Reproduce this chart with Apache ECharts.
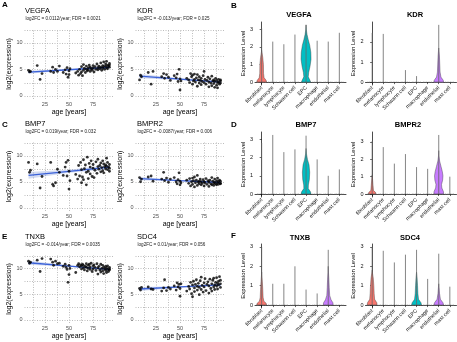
<!DOCTYPE html>
<html><head><meta charset="utf-8">
<script src="https://cdn.jsdelivr.net/npm/echarts/dist/echarts.min.js"></script>
<style>html,body{margin:0;padding:0;background:#fff}#c{width:457px;height:342px}</style>
</head><body><div id="c"></div>
<script>
// ---------- scatter data (shared donor ages) ----------
const ages = [8,9,10,17,20,22,31,33,34,36,38,40,44,46,47,48,49,50,50,51,57,59,60,61,62,63,63,64,65,65,66,67,68,68,69,70,70,71,72,72,73,74,75,75,76,77,78,79,80,80,81,82,83,83,84,85,85,86,86,87,88,88,89,89,90,90,91,92,92,92];
const vegfaExpr = [4.8,4.5,4.6,5.7,3.1,4.2, 4.6,5.4,4.4,5.0,4.6,5.6, 4.4,4.9,4.1,5.3,3.5,4.7,4.0,5.1, 4.3,4.6,3.9,5.0,4.2,5.5,4.5,3.8,5.9,4.8, 5.2,4.4,5.0,5.6,4.7,5.3,4.9,5.8,4.6,5.4, 5.1,4.8,5.7,5.2,4.5,5.5,5.0,6.0,5.3,4.9, 5.6,5.1,6.2,5.4,4.8,5.7,5.2,6.4,5.5,5.0, 6.0,5.6,5.3,6.5,5.8,5.1,5.6,6.1,5.4,5.8];
const kdrExpr = [3.0,3.9,3.6,4.4,2.2,4.6, 3.6,4.2,3.3,4.0,3.5,2.9, 3.8,3.4,4.1,2.7,5.0,1.1,3.2,2.8, 3.3,3.0,2.5,4.2,3.6,2.2,3.9,2.8,4.1,3.1, 2.6,3.4,1.8,4.0,3.0,2.4,3.6,2.9,2.1,3.3, 2.7,3.8,2.5,4.6,3.1,2.2,2.9,3.5,1.7,2.6, 3.2,2.4,1.9,3.7,2.8,2.3,3.0,1.6,2.7,3.3, 2.0,2.9,2.5,1.5,3.1,2.6,2.2,3.0,2.4,2.8];
const bmp7Expr = [8.7,6.8,7.2,8.4,3.8,6.0, 8.7,4.5,4.2,4.8,7.4,6.8, 6.2,7.8,8.7,6.1,9.1,3.6,7.0,5.2, 6.4,5.5,8.1,6.1,8.7,4.8,7.3,5.9,9.2,5.4, 7.5,8.2,4.4,6.8,9.7,7.0,5.6,8.5,6.5,7.8, 9.0,6.0,7.6,8.3,5.8,7.2,8.8,6.6,7.9,9.3, 7.4,8.1,6.9,8.6,7.7,9.0,7.1,8.4,6.7,7.9, 8.2,7.5,9.5,8.0,7.3,8.7,7.8,8.3,7.0,7.6];
const bmpr2Expr = [5.8,5.0,5.5,5.9,6.1,5.1, 5.5,6.8,5.2,5.7,4.9,5.5, 5.8,5.0,4.6,5.4,6.7,4.4,5.1,4.8, 5.3,4.7,5.6,4.2,5.0,5.7,4.5,5.2,4.0,5.9, 4.8,5.3,4.3,6.2,4.9,5.1,4.6,5.5,4.4,5.0, 4.7,5.4,4.2,5.0,4.8,5.6,4.5,5.2,4.1,4.9, 5.3,4.6,5.8,4.4,5.1,4.7,4.3,5.5,4.9,4.6, 5.2,4.4,5.7,4.8,5.0,4.5,5.3,4.7,5.1,4.6];
const tnxbExpr = [11.4,11.0,11.2,11.6,9.4,11.9, 11.8,11.2,10.6,11.4,10.9,11.0, 10.4,10.8,10.2,9.8,7.3,8.8,10.6,10.0, 9.2,10.6,10.9,10.3,10.7,9.9,10.5,10.8,10.1,10.6, 9.7,10.4,10.9,10.2,9.5,10.6,10.0,10.8,9.8,10.3, 11.0,9.4,10.5,9.9,10.7,10.2,9.6,10.9,8.9,10.1, 10.4,9.7,10.8,9.3,10.0,10.6,9.5,10.2,9.0,9.9, 10.4,9.6,10.1,9.2,9.8,10.5,9.4,9.9,9.7,10.2];
const sdc4Expr = [6.1,5.8,6.3,6.4,6.0,5.9, 5.6,6.2,7.8,5.7,6.3,6.0, 6.6,5.8,7.2,6.4,6.9,4.6,6.1,7.0, 5.6,6.5,6.0,7.3,5.1,6.8,4.5,7.5,6.2,5.5, 6.9,7.8,5.8,6.5,7.1,4.9,6.3,7.6,5.9,8.3, 6.7,5.4,7.2,6.4,8.0,5.7,6.9,7.4,5.2,6.6, 7.9,6.1,7.0,5.6,7.7,6.4,8.1,6.8,5.9,7.3, 6.6,8.2,7.1,6.0,7.5,6.8,8.4,7.0,6.3,7.7];

// fitted trend (linear) and its confidence half-width
const fitAges = [8, 50, 92];
const vegfaFit = [4.45, 4.92, 5.39];  const vegfaBand = [0.30, 0.12, 0.22];
const kdrFit = [3.70, 3.15, 2.60];    const kdrBand = [0.40, 0.15, 0.25];
const bmp7Fit = [6.20, 7.00, 7.80];   const bmp7Band = [0.65, 0.28, 0.40];
const bmpr2Fit = [5.60, 5.22, 4.85];  const bmpr2Band = [0.30, 0.12, 0.18];
const tnxbFit = [11.10, 10.45, 9.80]; const tnxbBand = [0.40, 0.15, 0.22];
const sdc4Fit = [6.00, 6.40, 6.80];   const sdc4Band = [0.40, 0.15, 0.25];

const scatterGenes = ['VEGFA','KDR','BMP7','BMPR2','TNXB','SDC4'];
const scatterStats = ['log2FC = 0.0112/year; FDR = 0.0021','log2FC = -0.013/year; FDR = 0.025','log2FC = 0.019/year; FDR = 0.032','log2FC = -0.0087/year; FDR = 0.006','log2FC = -0.014/year; FDR = 0.0035','log2FC = 0.01/year; FDR = 0.056'];
const ageTicks = [25, 50, 75];
const ageGrid = [12.5, 25, 37.5, 50, 62.5, 75, 87.5];
const exprTicks = [0, 5, 10];
const exprGrid = [0, 2.5, 5, 7.5, 10, 12.5];

// ---------- violin data ----------
const cellTypes = ['fibroblast','melanocyte','lymphocyte','Schwann cell','EPC','macrophage','endothelial','mast cell'];
const violinGenes = ['VEGFA','KDR','BMP7','BMPR2','TNXB','SDC4'];
const vegfaMax = [3.05, 2.3, 2.15, 2.7, 3.25, 2.35, 2.3, 2.8];
const kdrMax   = [2.45, 2.4, 0, 0.6, 0.3, 0, 2.85, 0];
const bmp7Max  = [2.8, 3.24, 2.3, 2.45, 3.2, 1.9, 1.0, 1.35];
const bmpr2Max = [3.05, 2.7, 1.75, 2.3, 1.55, 1.45, 3.4, 1.0];
const tnxbMax  = [3.0, 1.1, 1.1, 2.0, 0.8, 0.6, 2.85, 0];
const sdc4Max  = [3.0, 2.8, 2.2, 2.6, 2.85, 1.35, 2.65, 0.95];
const levelTicks = [0, 1, 2, 3];
// violin profiles: [expression level, half width (in category units)]
const vegfaFibroblastViolin = [[0,0.45],[0.1,0.4],[0.25,0.22],[0.5,0.17],[1.0,0.16],[1.4,0.1],[1.8,0]];
const vegfaEpcViolin = [[0,0.42],[0.12,0.34],[0.3,0.2],[0.55,0.24],[0.9,0.36],[1.3,0.45],[1.7,0.43],[2.1,0.33],[2.4,0.2],[2.7,0.09],[3.0,0.02],[3.25,0]];
const kdrEndothelialViolin = [[0,0.45],[0.1,0.4],[0.25,0.2],[0.5,0.12],[0.9,0.09],[1.3,0.06],[1.7,0]];
const bmp7EpcViolin = [[0,0.45],[0.12,0.4],[0.3,0.2],[0.5,0.21],[0.8,0.3],[1.2,0.33],[1.6,0.27],[1.9,0.13],[2.2,0.04],[2.5,0]];
const bmpr2FibroblastViolin = [[0,0.35],[0.1,0.3],[0.2,0.12],[0.5,0.08],[0.9,0.03],[1.1,0]];
const bmpr2EndothelialViolin = [[0,0.45],[0.15,0.42],[0.35,0.28],[0.55,0.25],[0.8,0.35],[1.05,0.38],[1.3,0.32],[1.6,0.2],[1.9,0.08],[2.2,0.02],[2.5,0]];
const tnxbFibroblastViolin = [[0,0.45],[0.1,0.4],[0.2,0.2],[0.4,0.13],[0.8,0.1],[1.2,0.06],[1.5,0.02],[1.7,0]];
const tnxbEndothelialViolin = [[0,0.45],[0.12,0.42],[0.28,0.25],[0.5,0.13],[0.9,0.09],[1.3,0.06],[1.7,0.02],[2.0,0]];
const sdc4FibroblastViolin = [[0,0.45],[0.12,0.42],[0.3,0.22],[0.6,0.18],[1.0,0.15],[1.4,0.1],[1.65,0.03],[1.8,0]];
const sdc4EpcViolin = [[0,0.45],[0.12,0.4],[0.3,0.18],[0.6,0.12],[1.0,0.09],[1.4,0.05],[1.7,0]];
const sdc4EndothelialViolin = [[0,0.45],[0.12,0.38],[0.3,0.15],[0.6,0.07],[0.9,0.03],[1.1,0]];

// ---------- assembly ----------
const FONT = "'Liberation Sans', Arial, sans-serif";
const cellColors = ['#F8766D','#CD9600','#7CAE00','#00BE67','#00BFC4','#00A9FF','#C77CFF','#FF61CC'];
const scatterExpr = [vegfaExpr, kdrExpr, bmp7Expr, bmpr2Expr, tnxbExpr, sdc4Expr];
const scatterFit = [vegfaFit, kdrFit, bmp7Fit, bmpr2Fit, tnxbFit, sdc4Fit];
const scatterBand = [vegfaBand, kdrBand, bmp7Band, bmpr2Band, tnxbBand, sdc4Band];
const violinMax = [vegfaMax, kdrMax, bmp7Max, bmpr2Max, tnxbMax, sdc4Max];
const violinShapes = [
  [[0, vegfaFibroblastViolin], [4, vegfaEpcViolin]],
  [[6, kdrEndothelialViolin]],
  [[4, bmp7EpcViolin]],
  [[0, bmpr2FibroblastViolin], [6, bmpr2EndothelialViolin]],
  [[0, tnxbFibroblastViolin], [6, tnxbEndothelialViolin]],
  [[0, sdc4FibroblastViolin], [4, sdc4EpcViolin], [6, sdc4EndothelialViolin]]
];

const sColLeft = [24.5, 135.5], sRowTop = [29, 142, 255], sRowH = [70, 69, 68], sW = 89;
const sTitleX = [25, 137];
const vColLeft = [255, 365.5], vRowTop = [22, 132, 244], vRowH = [63, 65, 64], vW = 91;
const vTitleX = [299, 415, 306, 408, 300, 410];
const vTitleY = [15, 125, 238];

const grid = [], xAxis = [], yAxis = [], series = [], graphic = [];

function txt(x, y, text, size, weight, align, color, rotation) {
  graphic.push({type:'text', x:x, y:y, rotation: rotation || 0, silent:true, z:10,
    style:{text:text, fontSize:size, fontWeight:weight||'normal', fontFamily:FONT, fill:color||'#000',
      align:align||'left', verticalAlign:'middle', textAlign:align||'left', textVerticalAlign:'middle'}});
}

// scatter panels
for (let g = 0; g < 6; g++) {
  const col = g % 2, row = Math.floor(g / 2);
  const gi = grid.length;
  grid.push({left: sColLeft[col], top: sRowTop[row], width: sW, height: sRowH[row]});
  xAxis.push({gridIndex: gi, type:'value', min:3.8, max:96.2,
    axisLine:{show:false}, axisTick:{show:false}, splitLine:{show:false},
    axisLabel:{customValues: ageTicks, fontSize:5.5, color:'#4d4d4d', margin:2, fontFamily:FONT},
    name:'age [years]', nameLocation:'middle', nameGap:9.5, nameTextStyle:{fontSize:7, color:'#000', fontFamily:FONT}});
  yAxis.push({gridIndex: gi, type:'value', min:-0.6, max:12.6,
    axisLine:{show:false}, axisTick:{show:false}, splitLine:{show:false},
    axisLabel:{customValues: exprTicks, fontSize:5.5, color:'#4d4d4d', margin:2, fontFamily:FONT},
    name:'log2(expression)', nameLocation:'middle', nameGap:9, nameRotate:90, nameTextStyle:{fontSize:7, color:'#000', fontFamily:FONT}});
  const fit = scatterFit[g], band = scatterBand[g], expr = scatterExpr[g];
  const ribbonData = fitAges.map((a, i) => [a, fit[i] - band[i], fit[i] + band[i]]);
  // grid lines drawn through the axis scales
  series.push({type:'custom', xAxisIndex: gi, yAxisIndex: gi, z:1, silent:true,
    data: [[ageGrid[0], exprGrid[0]]], encode:{x:0, y:1},
    renderItem: function (params, api) {
      const ch = [];
      ageGrid.forEach(v => {
        const a = api.coord([v, -0.6]), b = api.coord([v, 12.6]);
        ch.push({type:'line', shape:{x1:Math.round(a[0])+0.5, y1:a[1], x2:Math.round(b[0])+0.5, y2:b[1]},
          style:{stroke:'#bdbdbd', lineWidth:1, lineDash:[1,1.5]}});
      });
      exprGrid.forEach(v => {
        const a = api.coord([3.8, v]), b = api.coord([96.2, v]);
        ch.push({type:'line', shape:{x1:a[0], y1:Math.round(a[1])+0.5, x2:b[0], y2:Math.round(b[1])+0.5},
          style:{stroke:'#bdbdbd', lineWidth:1, lineDash:[1,1.5]}});
      });
      return {type:'group', children: ch};
    }});
  series.push({type:'custom', xAxisIndex: gi, yAxisIndex: gi, z:2, silent:true,
    data: ribbonData, encode:{x:0, y:[1,2]},
    renderItem: function (params, api) {
      if (params.dataIndex !== 0) return null;
      const up = ribbonData.map(d => api.coord([d[0], d[2]]));
      const lo = ribbonData.slice().reverse().map(d => api.coord([d[0], d[1]]));
      return {type:'polygon', shape:{points: up.concat(lo)}, style:{fill:'rgba(125,150,215,0.35)'}};
    }});
  series.push({type:'line', xAxisIndex: gi, yAxisIndex: gi, z:3, silent:true, symbol:'none',
    data: fitAges.map((a, i) => [a, fit[i]]), lineStyle:{color:'#3b62d9', width:1.3}});
  series.push({type:'scatter', xAxisIndex: gi, yAxisIndex: gi, z:4, silent:true,
    data: ages.map((a, i) => [a, expr[i]]), symbolSize:2.8, itemStyle:{color:'#000'}});
  const top = sRowTop[row];
  txt(sTitleX[col], top - 18.5, scatterGenes[g], 7.5, 'normal', 'left');
  txt(sTitleX[col] + 0.5, top - 10.5, scatterStats[g], 4.6, 'normal', 'left', '#222');
}

// violin panels
for (let g = 0; g < 6; g++) {
  const col = g % 2, row = Math.floor(g / 2);
  const gi = grid.length;
  const mx = Math.max.apply(null, violinMax[g]);
  grid.push({left: vColLeft[col], top: vRowTop[row], width: vW, height: vRowH[row]});
  xAxis.push({gridIndex: gi, type:'value', min:-0.6, max:7.6, splitLine:{show:false},
    axisLine:{show:true, lineStyle:{color:'#000', width:0.7}},
    axisTick:{show:true, customValues:[0,1,2,3,4,5,6,7], length:2, lineStyle:{color:'#000', width:0.6}},
    axisLabel:{customValues:[0,1,2,3,4,5,6,7], formatter: v => cellTypes[Math.round(v)], rotate:45,
      fontSize:5.3, color:'#111', margin:2, fontFamily:FONT}});
  yAxis.push({gridIndex: gi, type:'value', min: -0.05 * mx, max: 1.05 * mx, splitLine:{show:false},
    axisLine:{show:true, lineStyle:{color:'#000', width:0.7}},
    axisTick:{show:true, customValues: levelTicks, length:2, lineStyle:{color:'#000', width:0.6}},
    axisLabel:{customValues: levelTicks, fontSize:5.5, color:'#111', margin:2, fontFamily:FONT},
    name:'Expression Level', nameLocation:'middle', nameGap:8, nameRotate:90,
    nameTextStyle:{fontSize:6, color:'#000', fontFamily:FONT}});
  const shapes = violinShapes[g];
  series.push({type:'custom', xAxisIndex: gi, yAxisIndex: gi, z:2, silent:true,
    data: shapes.map(s => [s[0], s[1][s[1].length - 1][0]]), encode:{x:0, y:1},
    renderItem: function (params, api) {
      const s = shapes[params.dataIndex], cat = s[0], prof = s[1];
      const right = prof.map(p => api.coord([cat + p[1], p[0]]));
      const left = prof.slice().reverse().map(p => api.coord([cat - p[1], p[0]]));
      return {type:'polygon', shape:{points: right.concat(left)},
        style:{fill: cellColors[cat], stroke:'#333', lineWidth:0.4}};
    }});
  series.push({type:'custom', xAxisIndex: gi, yAxisIndex: gi, z:3, silent:true,
    data: violinMax[g].map((m, i) => [i, m]), encode:{x:0, y:1},
    renderItem: function (params, api) {
      const i = api.value(0), m = api.value(1);
      const b0 = api.coord([i - 0.42, 0]), b1 = api.coord([i + 0.42, 0]);
      const ch = [{type:'line', shape:{x1:b0[0], y1:b0[1], x2:b1[0], y2:b1[1]},
        style:{stroke:'#777', lineWidth:0.8, lineDash:[0.8,0.8]}}];
      if (m > 0) {
        const p0 = api.coord([i, 0]), p1 = api.coord([i, m]);
        ch.push({type:'line', shape:{x1:p0[0], y1:p0[1], x2:p1[0], y2:p1[1]}, style:{stroke:'#666', lineWidth:0.8}});
      }
      return {type:'group', children: ch};
    }});
  txt(vTitleX[g], vTitleY[row], violinGenes[g], 7.5, 'bold', 'center');
}

// panel letters
txt(2, 5, 'A', 8, 'bold', 'left');
txt(2, 125, 'C', 8, 'bold', 'left');
txt(2, 237, 'E', 8, 'bold', 'left');
txt(231, 6, 'B', 8, 'bold', 'left');
txt(231, 125, 'D', 8, 'bold', 'left');
txt(231, 236, 'F', 8, 'bold', 'left');

const chart = echarts.init(document.getElementById('c'), null, {renderer:'canvas'});
chart.setOption({animation:false, backgroundColor:'#fff', textStyle:{fontFamily:FONT},
  grid, xAxis, yAxis, series, graphic});
</script></body></html>
